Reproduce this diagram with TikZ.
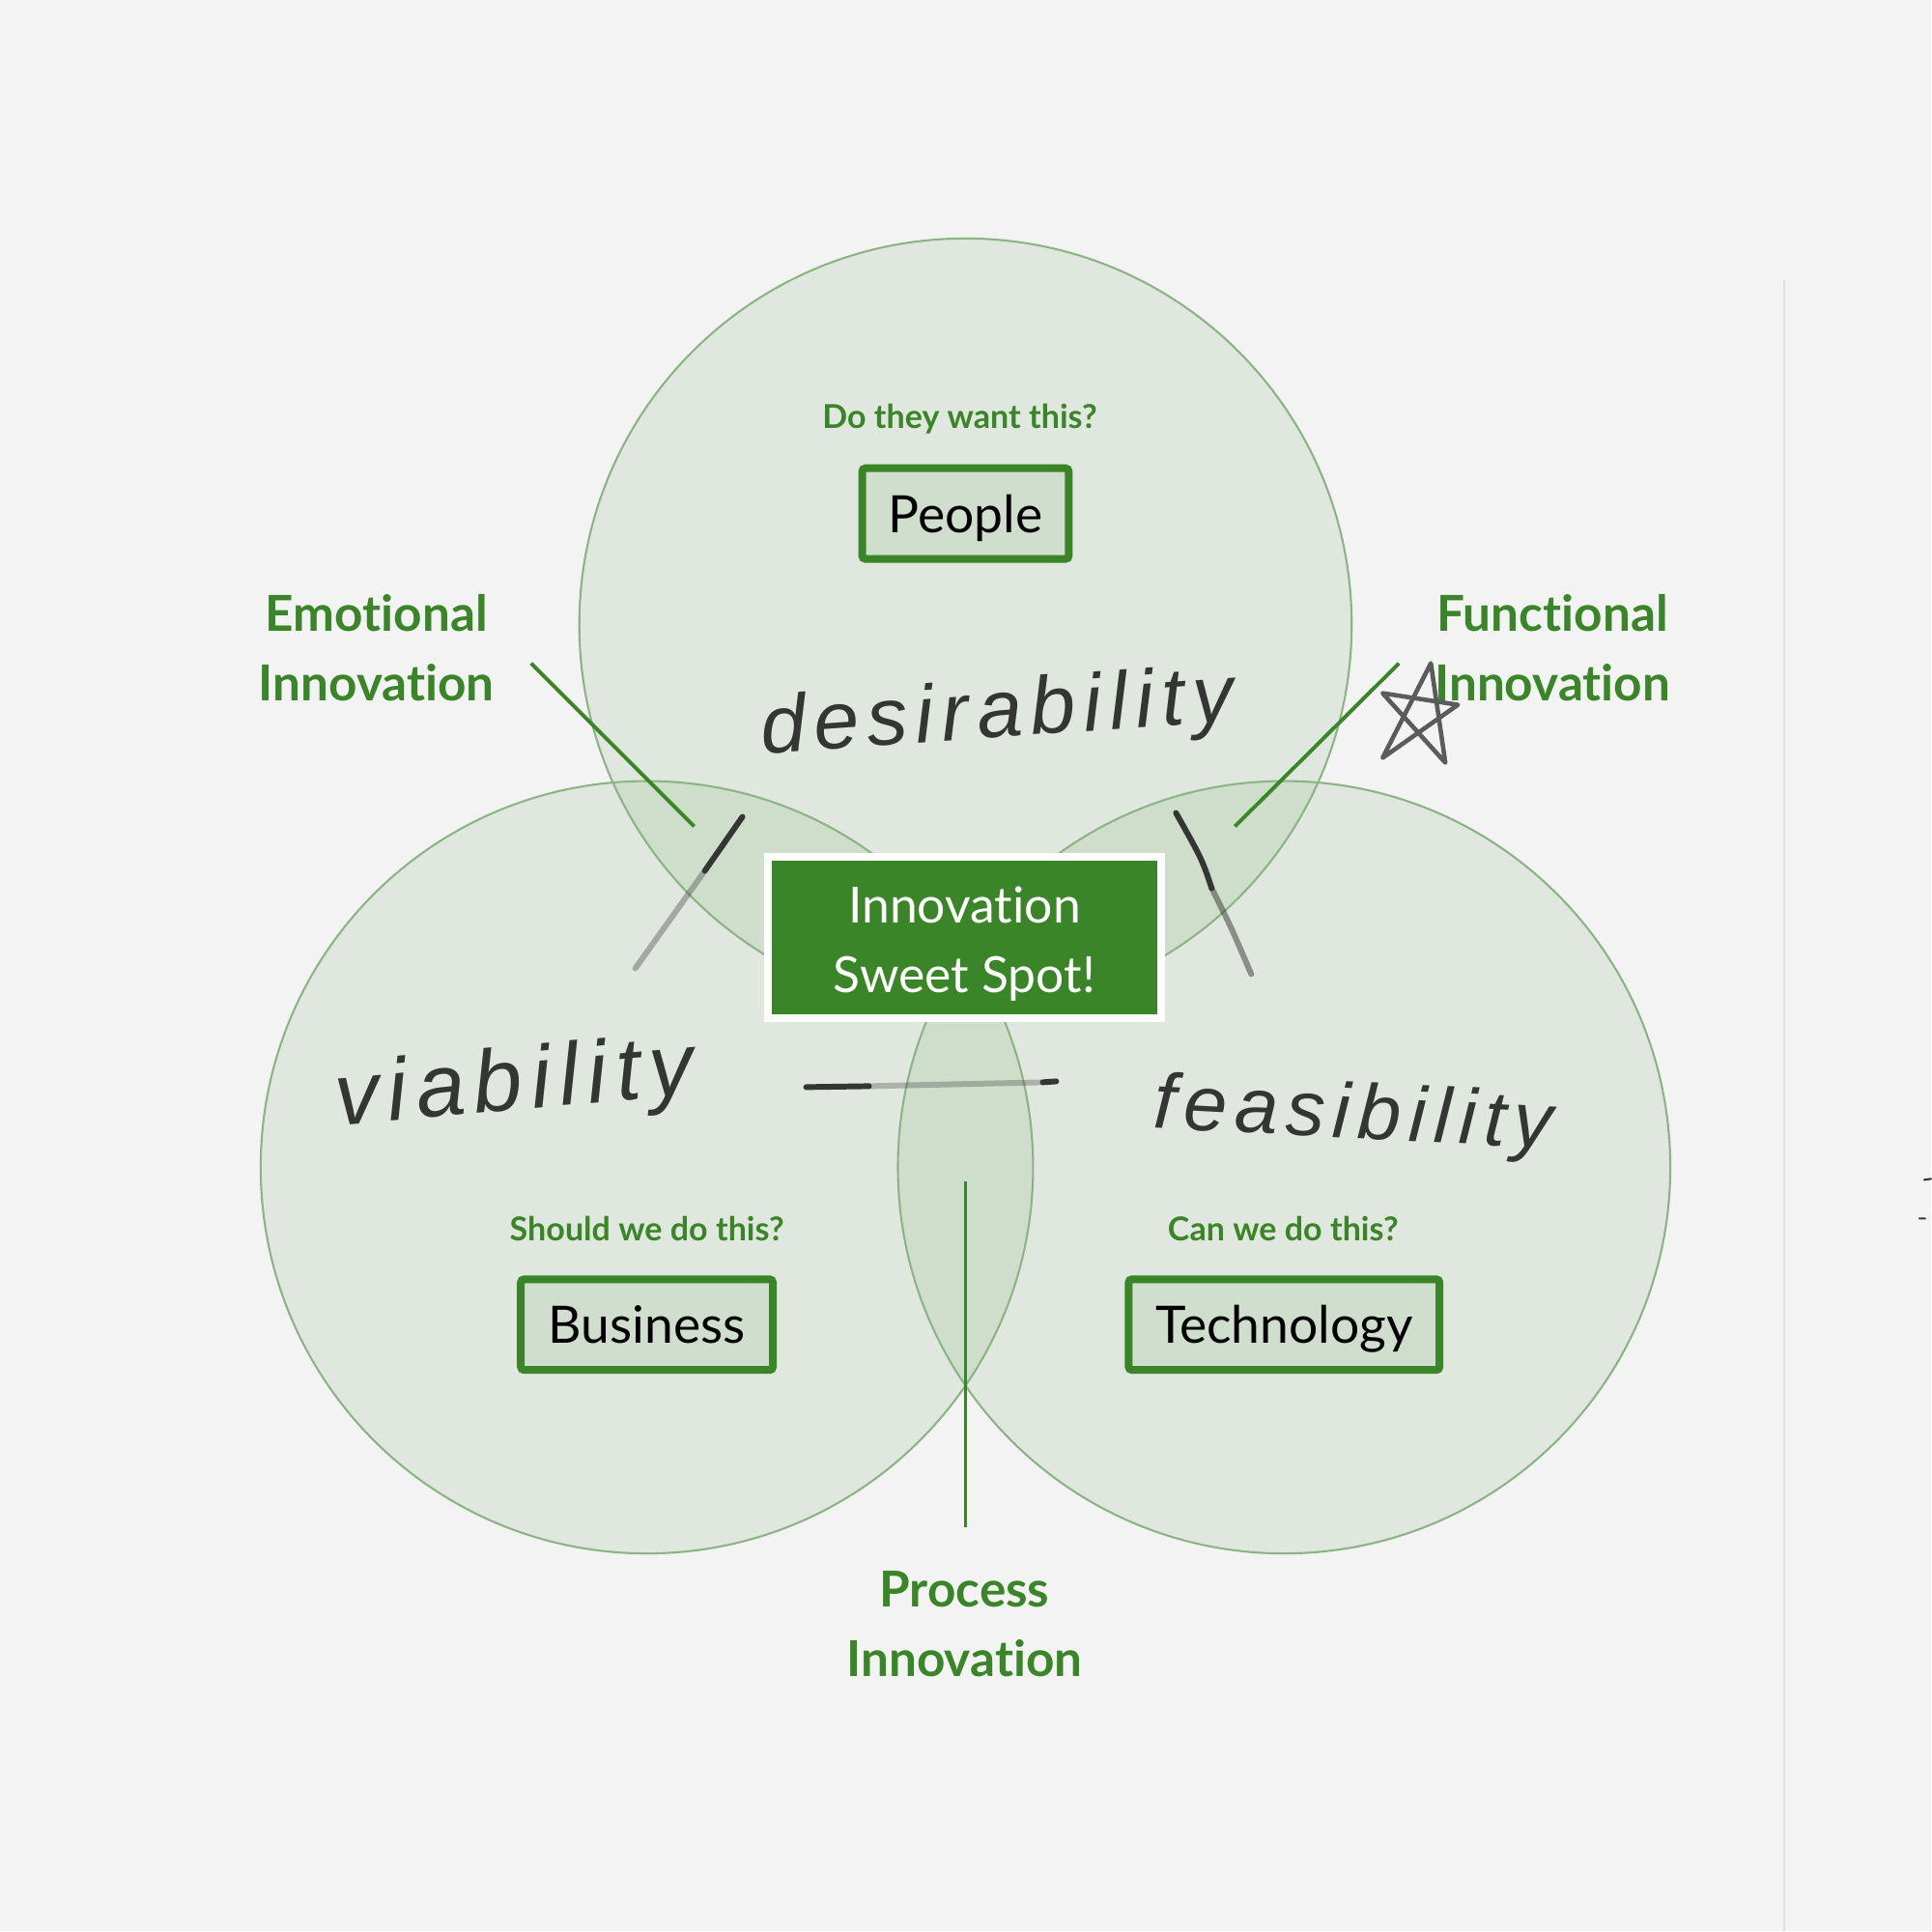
\documentclass[tikz,border=0pt]{standalone}
\usepackage{fontspec}
\setmainfont{Lato}[Ligatures=NoCommon]
\newfontfamily\handfont[LetterSpace=10]{Liberation Sans}
\usetikzlibrary{positioning}
\definecolor{leaf}{RGB}{58,133,39}
\definecolor{ringline}{RGB}{140,181,133}
\definecolor{boxfill}{RGB}{207,222,205}
\definecolor{paper}{RGB}{243,243,243}
\definecolor{pencil}{RGB}{52,54,52}
\tikzset{
  catbox/.style={draw=leaf, line width=0.08cm, fill=boxfill, rounded corners=1pt,
    minimum height=0.94cm, inner sep=0pt, text height=14pt, text depth=3pt,
    text=black, font=\fontsize{15.2}{17}\selectfont},
  query/.style={text=leaf, font=\bfseries\fontsize{9.7}{11}\selectfont},
  sidelabel/.style={text=leaf, align=center, font=\bfseries\fontsize{14.6}{20.5}\selectfont},
  leader/.style={draw=leaf, line width=1.1pt},
  pencil/.style={draw=pencil, line width=1.7pt, line cap=round},
  handword/.style={text=pencil, font=\handfont\itshape\fontsize{27}{30}\selectfont}
}
\begin{document}
\begin{tikzpicture}
\fill[paper] (0,0) rectangle (20,20);
\draw[ringline!35, line width=0.6pt] (18.48,17.1) -- (18.48,0);
\draw[pencil, line width=0.6pt] (19.93,7.78) -- (20,7.79) (19.88,7.38) -- (19.94,7.38);
% three circles
\foreach \c in {(10,13.53),(6.70,7.91),(13.30,7.91)} {
  \fill[leaf, opacity=0.1] \c circle (4);
}
\foreach \c in {(10,13.53),(6.70,7.91),(13.30,7.91)} {
  \draw[ringline, line width=0.6pt] \c circle (4);
}
% handwritten words and strokes
\node[handword, font=\handfont\itshape\fontsize{24}{26}\selectfont, rotate=4] (desire) at (10.33,12.58) {desirability};
\node[handword, font=\handfont\itshape\fontsize{26}{28}\selectfont, rotate=5] (viable) at (5.33,8.74) {viability};
\node[handword, font=\handfont\itshape\fontsize{23}{26}\selectfont, rotate=-3] (feasible) at (14.02,8.42) {feasibility};
\draw[pencil] (7.69,11.54) -- (7.30,10.98);
\draw[pencil, draw opacity=0.35] (7.30,10.98) -- (6.58,9.97);
\draw[pencil] (12.18,11.58) .. controls (12.45,11.10) .. (12.55,10.80);
\draw[pencil, draw opacity=0.5] (12.55,10.80) .. controls (12.75,10.40) .. (12.96,9.91);
\draw[pencil] (8.35,8.74) -- (9.00,8.75);
\draw[pencil, draw opacity=0.3] (9.00,8.75) -- (10.80,8.79);
\draw[pencil] (10.80,8.79) -- (10.94,8.80);
\draw[pencil, line width=1.3pt, line join=round, draw opacity=0.8]
  (14.32,12.15) -- (14.82,13.13) -- (14.97,12.10) -- (14.32,12.82) -- (15.10,12.70) -- cycle;
% boxes
\node[catbox, minimum width=2.14cm] (people) at (10,14.68) {People};
\node[catbox, minimum width=2.61cm] (business) at (6.70,6.28) {Business};
\node[catbox, minimum width=3.22cm] (tech) at (13.30,6.28) {Technology};
\node[query] (qpeople) at (9.94,15.66) {Do they want this?};
\node[query] (qbusiness) at (6.70,7.27) {Should we do this?};
\node[query] (qtech) at (13.29,7.27) {Can we do this?};
\node[fill=leaf, draw=white, line width=0.08cm, minimum width=4.08cm, minimum height=1.67cm,
  inner sep=0pt, text=white, align=center, font=\fontsize{14.7}{20.5}\selectfont]
  (sweet) at (9.99,10.29) {\strut Innovation\\Sweet Spot!};
% labels and leaders
\node[sidelabel] (emotional) at (3.90,13.29) {Emotional\\Innovation};
\node[sidelabel] (functional) at (16.08,13.29) {Functional\\Innovation};
\node[sidelabel] (process) at (9.99,3.18) {Process\\Innovation};
\coordinate (emoA) at (5.50,13.13);
\coordinate (emoB) at (7.19,11.44);
\coordinate (funA) at (14.49,13.13);
\coordinate (funB) at (12.79,11.44);
\coordinate (proA) at (10.00,7.76);
\coordinate (proB) at (10.00,4.18);
\draw[leader] (emoA) -- (emoB);
\draw[leader] (funA) -- (funB);
\draw[leader] (proA) -- (proB);
\end{tikzpicture}
\end{document}
